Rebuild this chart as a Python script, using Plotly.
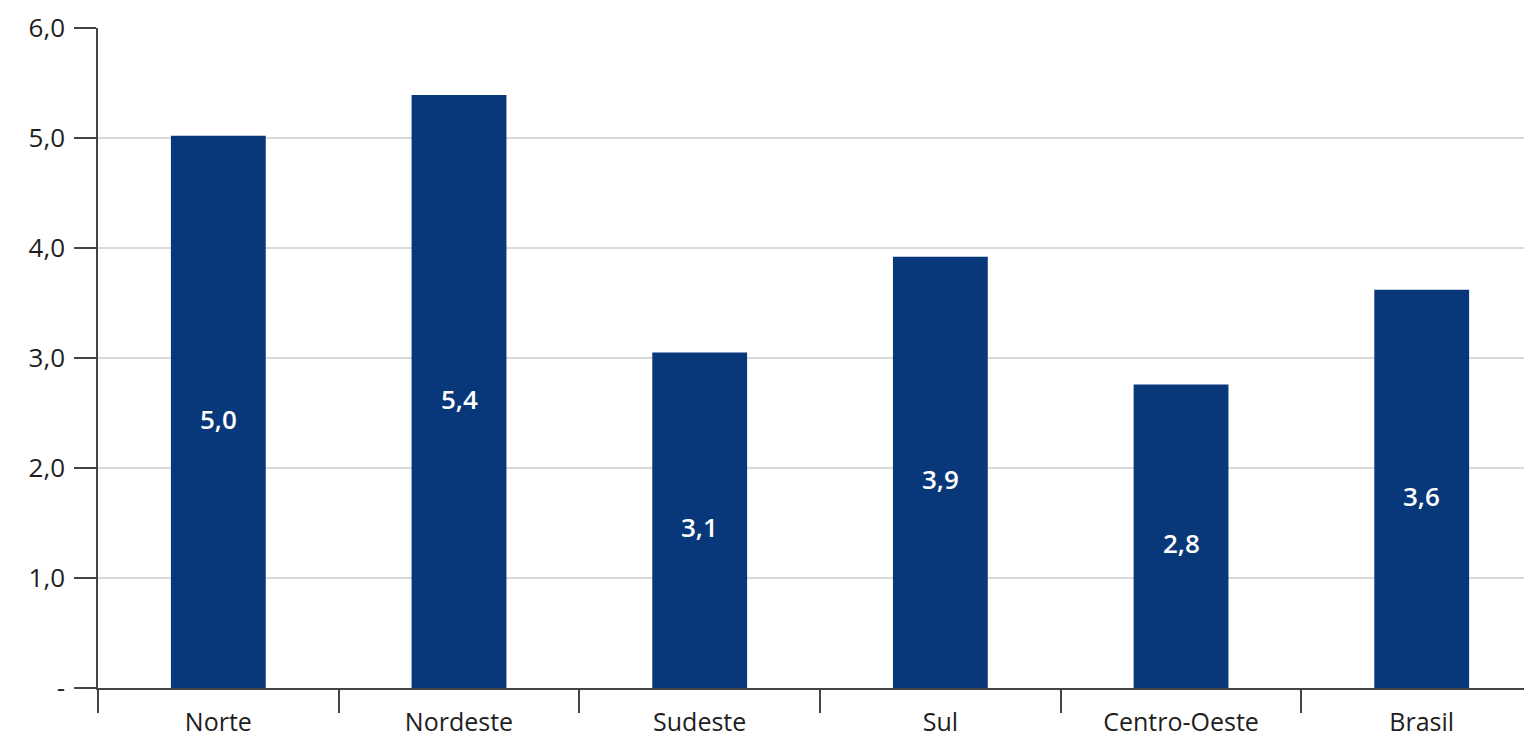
import plotly.graph_objects as go

categories = ["Norte", "Nordeste", "Sudeste", "Sul", "Centro-Oeste", "Brasil"]
values = [5.02, 5.39, 3.05, 3.92, 2.76, 3.62]
labels = ["5,0", "5,4", "3,1", "3,9", "2,8", "3,6"]
ytick_vals = [0, 1, 2, 3, 4, 5, 6]
ytick_text = ["-", "1,0", "2,0", "3,0", "4,0", "5,0", "6,0"]

FONT = "Open Sans"

fig = go.Figure(go.Bar(
    x=categories, y=values,
    marker=dict(color="#08377a", line=dict(width=0)),
    width=0.394,
    hoverinfo="skip",
))

for c, v, t in zip(categories, values, labels):
    fig.add_annotation(
        x=c, y=v / 2, text=t, showarrow=False, yshift=-7,
        font=dict(family=FONT, size=26, color="white", weight=600),
    )

fig.update_layout(
    width=1524, height=741,
    margin=dict(l=98, r=0, t=28, b=53),
    paper_bgcolor="white", plot_bgcolor="white",
    showlegend=False,
    font=dict(family=FONT, size=26, color="#1e1e1e"),
)
fig.update_xaxes(
    range=[-0.5, 5.425], showline=True, linecolor="#444444", linewidth=1.5,
    ticks="outside", tickson="boundaries", ticklen=23, tickcolor="#444444", tickwidth=1.5,
    tickfont=dict(family=FONT, size=25, color="#1e1e1e"),
    ticklabelstandoff=11, automargin=False,
    showgrid=False, zeroline=False, fixedrange=True,
)
fig.update_yaxes(
    range=[0, 6], tickvals=ytick_vals, ticktext=ytick_text,
    showline=True, linecolor="#444444", linewidth=1.5,
    ticks="outside", ticklen=22, tickcolor="#444444", tickwidth=1.5,
    showgrid=True, gridcolor="#d9d9d9", gridwidth=1.5, zeroline=False,
    tickfont=dict(family=FONT, size=26, color="#1e1e1e"),
    ticklabelstandoff=4, automargin=False, fixedrange=True,
)

fig.write_html("out.html")
